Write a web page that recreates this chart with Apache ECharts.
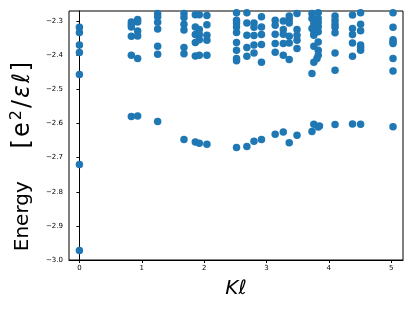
<!DOCTYPE html>
<html><head><meta charset="utf-8">
<script src="https://cdn.jsdelivr.net/npm/echarts@6/dist/echarts.min.js"></script>
<style>html,body{margin:0;padding:0;background:#fff}#c{width:415px;height:311px}</style>
</head><body><div id="c"></div>
<script>
// Momentum values (one per column of states)
const kValues = [0, 0.833, 0.934, 1.255, 1.677, 1.859, 1.923, 2.045, 2.52, 2.686, 2.80, 2.92, 3.14, 3.27, 3.365, 3.49, 3.73, 3.76, 3.81, 3.83, 3.85, 4.10, 4.38, 4.51, 5.03];
// Energies for each momentum column
const energies = [
  [-2.318, -2.333, -2.370, -2.392, -2.456, -2.720, -2.972],
  [-2.302, -2.310, -2.317, -2.344, -2.400, -2.579],
  [-2.295, -2.302, -2.329, -2.343, -2.409, -2.578],
  [-2.277, -2.287, -2.303, -2.323, -2.373, -2.397, -2.594],
  [-2.277, -2.289, -2.309, -2.326, -2.377, -2.395, -2.647],
  [-2.281, -2.317, -2.339, -2.362, -2.402, -2.654],
  [-2.281, -2.324, -2.339, -2.354, -2.400, -2.658],
  [-2.283, -2.310, -2.341, -2.356, -2.400, -2.661],
  [-2.275, -2.297, -2.305, -2.317, -2.333, -2.362, -2.385, -2.409, -2.416, -2.670],
  [-2.275, -2.305, -2.341, -2.377, -2.403, -2.667],
  [-2.305, -2.318, -2.342, -2.370, -2.393, -2.652],
  [-2.287, -2.317, -2.339, -2.368, -2.420, -2.647],
  [-2.297, -2.312, -2.338, -2.365, -2.391, -2.631],
  [-2.299, -2.324, -2.338, -2.365, -2.400, -2.625],
  [-2.285, -2.295, -2.305, -2.344, -2.364, -2.412, -2.656],
  [-2.277, -2.324, -2.341, -2.356, -2.380, -2.634],
  [-2.277, -2.292, -2.321, -2.453, -2.623],
  [-2.307, -2.336, -2.341, -2.373, -2.420, -2.602],
  [-2.409],
  [-2.275, -2.292, -2.304, -2.316, -2.331, -2.361, -2.385, -2.400, -2.610],
  [-2.607],
  [-2.285, -2.297, -2.309, -2.318, -2.334, -2.393, -2.444, -2.603],
  [-2.282, -2.321, -2.339, -2.364, -2.403, -2.601],
  [-2.275, -2.309, -2.328, -2.370, -2.377, -2.385, -2.602],
  [-2.275, -2.318, -2.354, -2.361, -2.365, -2.409, -2.446, -2.609]
];
const xTicks = [0, 1, 2, 3, 4, 5];
const yTicks = [-3.0, -2.9, -2.8, -2.7, -2.6, -2.5, -2.4, -2.3];

const points = [];
kValues.forEach((k, i) => energies[i].forEach(e => points.push([k, e])));

const fmt = v => (Math.round(v * 10) / 10).toFixed(1).replace('-', '\u2212');
const chart = echarts.init(document.getElementById('c'), null, {renderer: 'canvas'});
chart.setOption({
  animation: false,
  textStyle: {fontFamily: 'DejaVu Sans'},
  grid: {left: 69, right: 12, top: 11, bottom: 51, show: true, borderColor: '#000', borderWidth: 1, backgroundColor: 'transparent'},
  xAxis: {
    type: 'value', min: -0.167, max: 5.19,
    splitLine: {show: false},
    axisLine: {lineStyle: {color: '#000', width: 1}},
    axisTick: {show: true, length: 3, lineStyle: {color: '#000'}, customValues: xTicks},
    axisLabel: {color: '#000', fontSize: 7, margin: 5, customValues: xTicks, formatter: v => String(v)},
    name: '{it|K\u2113}', nameLocation: 'middle', nameGap: 19,
    nameTextStyle: {rich: {it: {fontFamily: 'DejaVu Sans', fontStyle: 'italic', fontSize: 20, color: '#000'}}}
  },
  yAxis: {
    type: 'value', min: -3.0, max: -2.27,
    splitLine: {show: false},
    axisLine: {show: true, lineStyle: {color: '#000', width: 1}},
    axisTick: {show: true, length: 3, lineStyle: {color: '#000'}, customValues: yTicks},
    axisLabel: {color: '#000', fontSize: 7, margin: 6, customValues: yTicks, formatter: fmt},
    name: 'Energy{sp|     }{br|[}{br|e}{sup|2}{br|/}{it|\u03b5}{it|\u2113}{br|]}', nameLocation: 'middle', nameGap: 29,
    nameTextStyle: {fontSize: 20, color: '#000', padding: [0, 41, 0, 0],
      rich: {sp: {fontSize: 20},
             br: {fontSize: 24, color: '#000', padding: [0, 1, 0, 1]},
             sup: {fontSize: 16, verticalAlign: 'top', padding: [0, 1, 13, 1], color: '#000'},
             it: {fontStyle: 'italic', fontSize: 24, color: '#000', padding: [0, 1, 0, 1]}}}
  },
  series: [{
    type: 'scatter', data: points, symbolSize: 7.5,
    itemStyle: {color: '#1f77b4', opacity: 1}
  }]
});
</script></body></html>
